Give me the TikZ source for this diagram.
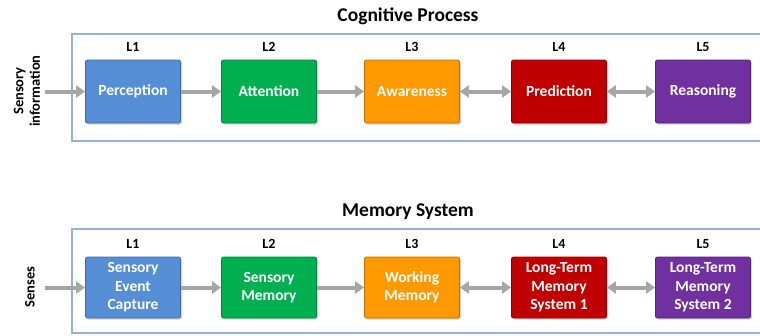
\documentclass[tikz,border=0pt]{standalone}
\usepackage{fontspec}
\setmainfont{Carlito}
\usetikzlibrary{arrows.meta,shadows}

\definecolor{lvlblue}{HTML}{558ED5}
\definecolor{lvlgreen}{HTML}{00B050}
\definecolor{lvlorange}{HTML}{FF9900}
\definecolor{lvlred}{HTML}{C00000}
\definecolor{lvlpurple}{HTML}{7030A0}
\definecolor{framecol}{HTML}{95B3D7}
\definecolor{flowgray}{HTML}{A6A6A6}

\begin{document}
\begin{tikzpicture}[x=1pt, y=-1pt, font=\bfseries,
    level box/.style={rectangle, rounded corners=2pt, fill=#1, draw=#1!75!black,
        line width=0.8pt, text=white, minimum width=95pt, align=center,
        font=\bfseries\fontsize{15.5}{18.5}\selectfont,
        drop shadow={shadow xshift=1.5pt, shadow yshift=-1.5pt, opacity=0.35}},
    level tag/.style={font=\bfseries\fontsize{14}{16}\selectfont},
    group frame/.style={draw=framecol, line width=1.5pt},
    group title/.style={font=\bfseries\fontsize{19.5}{22}\selectfont},
    side label/.style={rotate=90, align=center, font=\bfseries\fontsize{14.5}{16.5}\selectfont},
    flow/.style={draw=flowgray, line width=4pt, -{Triangle[length=9pt,width=12pt]}},
    both flow/.style={draw=flowgray, line width=4pt,
        {Triangle[length=9pt,width=12pt]}-{Triangle[length=9pt,width=12pt]}}
]
\useasboundingbox (0,0) rectangle (760,335);
\clip (0,0) rectangle (760,335);

% cognitive process
\node[group title] (cogtitle) at (408,16) {Cognitive Process};
\draw[group frame] (72,34) rectangle (770,141);
\node[side label] (sensinfo) at (27,91) {Sensory\\information};
\foreach \name/\col/\x/\txt [count=\i] in {
    perc/lvlblue/133/Perception, att/lvlgreen/269/Attention,
    awa/lvlorange/412/Awareness, pred/lvlred/559/Prediction,
    reas/lvlpurple/703/Reasoning}{
    \node[level box=\col, minimum height=63pt] (\name) at (\x,91.5) {\txt};
    \node[level tag] (\name-tag) at (\x,47) {L\i};
}
\coordinate (cogin) at (45,91.5);
\draw[flow] (cogin) -- (perc.west);
\draw[flow] (perc) -- (att);
\draw[flow] (att) -- (awa);
\draw[both flow] (awa) -- (pred);
\draw[both flow] (pred) -- (reas);

% memory system
\node[group title] (memtitle) at (408,212) {Memory System};
\draw[group frame] (72,229) rectangle (770,333);
\node[side label] (senses) at (30,287) {Senses};
\foreach \name/\col/\x/\txt [count=\i] in {
    sec/lvlblue/133/{Sensory\\Event\\Capture}, smem/lvlgreen/269/{Sensory\\Memory},
    wmem/lvlorange/412/{Working\\Memory}, ltm1/lvlred/559/{Long-Term\\Memory\\System 1},
    ltm2/lvlpurple/703/{Long-Term\\Memory\\System 2}}{
    \node[level box=\col, minimum height=61pt] (\name) at (\x,287.5) {\txt};
    \node[level tag] (\name-tag) at (\x,244) {L\i};
}
\coordinate (memin) at (45,287.5);
\draw[flow] (memin) -- (sec.west);
\draw[flow] (sec) -- (smem);
\draw[flow] (smem) -- (wmem);
\draw[both flow] (wmem) -- (ltm1);
\draw[both flow] (ltm1) -- (ltm2);

\end{tikzpicture}
\end{document}
